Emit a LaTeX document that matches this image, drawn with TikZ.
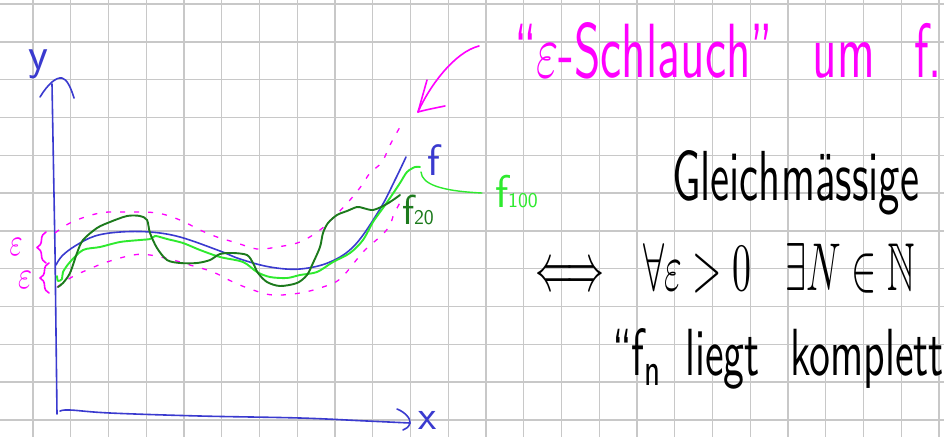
\documentclass[tikz,border=0pt]{standalone}
\usepackage{amssymb}
\usepackage{fontspec}
\usetikzlibrary{decorations.pathreplacing}
\definecolor{gridc}{HTML}{C8C8C8}
\definecolor{penblue}{HTML}{3A3ACF}
\definecolor{penmag}{HTML}{FF00FF}
\definecolor{pendg}{HTML}{1C7A1C}
\definecolor{penlg}{HTML}{2EEA2E}
\begin{document}
\begin{tikzpicture}[x=1pt,y=-1pt,
  gridline/.style={gridc,line width=1.4pt},
  pen/.style={line width=1.6pt,line cap=round,line join=round},
  bandline/.style={penmag,line width=1.3pt,dash pattern=on 5pt off 9pt},
  txt/.style={anchor=base west,inner sep=0pt,outer sep=0pt},
  lbl/.style={inner sep=0pt,font=\sffamily}]
\useasboundingbox (0,0) rectangle (944,437);
\fill[white] (0,0) rectangle (944,437);
% grid paper
\foreach \k in {0,...,24} \draw[gridline] ({33+37.75*\k},0) -- ({33+37.75*\k},437);
\foreach \k in {0,...,11} \draw[gridline] (0,{4+37.8*\k}) -- (944,{4+37.8*\k});
% axes
\draw[pen,penblue] (52,84) -- (55,250) -- (57,414);
\draw[pen,penblue] (40,97) .. controls (48,84) and (56,77) .. (62,78) .. controls (67,79) and (71,88) .. (74,98);
\draw[pen,penblue] plot[smooth,tension=0.6] coordinates {(60,411) (70,410) (110,413) (200,416) (300,418) (367,421) (410,423)};
\draw[pen,penblue] (397,409) .. controls (405,412) and (411,419) .. (410,423) .. controls (409,427) and (406,429) .. (403,430);
\node[lbl,penblue,font=\sffamily\fontsize{46}{46}\selectfont] (ylab) at (38,64) {y};
\node[lbl,penblue,font=\sffamily\fontsize{42}{42}\selectfont] (xlab) at (428,420) {x};
% epsilon band
\draw[bandline] plot[smooth,tension=0.6] coordinates {(55,233) (72,222) (100,213) (127,212) (157,213) (180,220) (200,230) (217,237) (237,243) (257,249) (277,247) (300,242) (320,230) (333,218) (350,200) (362,185) (370,173) (382,162) (390,145) (400,127)};
\draw[bandline] plot[smooth,tension=0.6] coordinates {(57,287) (72,277) (87,270) (107,262) (133,255) (150,255) (173,260) (190,265) (213,272) (233,282) (253,290) (273,295) (300,293) (323,287) (340,279) (358,258) (367,248) (382,235) (390,225) (394,214) (402,199)};
% f
\draw[pen,penblue] plot[smooth,tension=0.6] coordinates {(56,265) (62,256) (75,246) (95,236) (120,232) (150,232) (180,237) (220,251) (240,259) (270,267) (300,269) (330,262) (355,245) (380,209) (395,180) (406,157)};
% f100
\draw[pen,penlg,line width=1.9pt] plot[smooth,tension=0.5] coordinates {(57,276) (58,281) (62,279) (63,272) (70,262) (83,250) (100,247) (120,242) (140,240) (150,239) (155,236) (160,237) (167,239) (183,243) (200,250) (220,257) (243,262) (257,272) (270,277) (287,278) (300,275) (317,272) (333,262) (350,253) (363,240) (373,222) (383,208) (392,195) (400,183) (407,172) (415,167) (420,167)};
% f20
\draw[pen,pendg,line width=1.9pt] plot[smooth,tension=0.5] coordinates {(58,287) (63,283) (70,273) (77,253) (83,240) (97,228) (110,222) (127,216) (140,216) (147,220) (150,233) (157,248) (167,260) (180,263) (197,263) (210,260) (220,254) (233,253) (247,255) (253,263) (258,273) (267,282) (280,286) (297,283) (307,275) (313,263) (320,247) (323,233) (328,223) (337,215) (347,211) (357,207) (363,208) (373,210) (385,205) (393,200) (400,195)};
% labels of curves
\node[lbl,penblue,font=\sffamily\fontsize{44}{44}\selectfont] (flab) at (434,160) {f};
\node[txt,pendg,font=\sffamily\fontsize{42}{42}\selectfont] (f20lab) at (402,224) {f{\fontsize{21}{21}\selectfont 20}};
\node[txt,penlg,font=\sffamily\fontsize{46}{46}\selectfont] (f100lab) at (495,207) {f{\fontsize{21}{21}\selectfont 100}};
\coordinate (gp1) at (421,172);
\coordinate (gp2) at (482,193);
\draw[pen,penlg,line width=1.4pt] (gp1) .. controls (422,184) and (440,191) .. (gp2);
% braces and epsilons
\draw[pen,penmag,decorate,decoration={brace,amplitude=9pt}] (46,263) -- (46,232);
\draw[pen,penmag,decorate,decoration={brace,amplitude=9pt}] (49,293) -- (49,263);
\node[lbl,penmag] (eps1) at (16,247) {\resizebox{13pt}{17pt}{$\varepsilon$}};
\node[lbl,penmag] (eps2) at (25,280) {\resizebox{14pt}{17pt}{$\varepsilon$}};
% magenta heading and arrow
\node[txt,penmag] (schlauch) at (514,77) {\resizebox{428pt}{55pt}{\sffamily ``$\varepsilon$-Schlauch'' \hspace{0.5em}um \hspace{0.5em}f.}};
\coordinate (arS) at (479,46);
\coordinate (arT) at (418,112);
\draw[pen,penmag] (arS) .. controls (455,52) and (430,85) .. (arT);
\draw[pen,penmag] (arT) -- (427,80);
\draw[pen,penmag] (arT) .. controls (425,110) and (435,108) .. (445,106);
% black text
\node[txt] (gleich) at (672,200) {\resizebox{247pt}{50pt}{\sffamily Gleichmässige}};
\node[txt] (iff) at (535,290) {\resizebox{380pt}{47pt}{$\Longleftrightarrow\hspace{0.75em}\forall\varepsilon>0\hspace{0.9em}\exists N\in\mathbb{N}$}};
\node[txt] (liegt) at (612,375) {\resizebox{332pt}{47pt}{\sffamily ``f\textsubscript{n} \hspace{0.2em}liegt \hspace{0.4em}komplett}};
\end{tikzpicture}
\end{document}
